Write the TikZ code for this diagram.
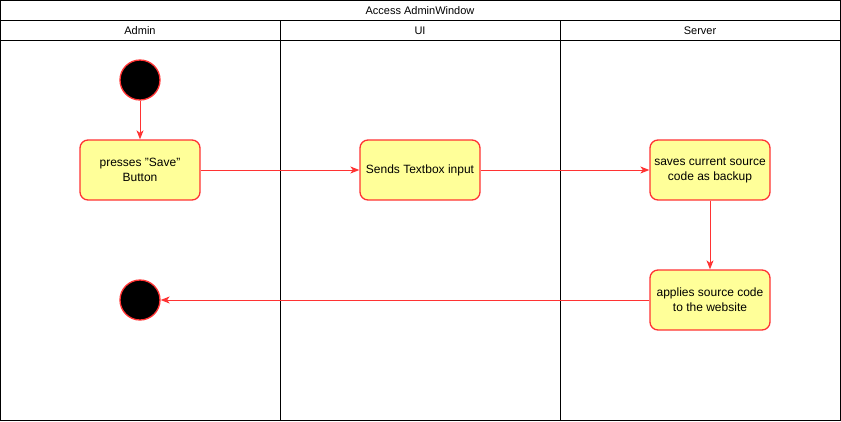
\documentclass[tikz,border=0pt]{standalone}
\usepackage{fontspec}
\setmainfont{Liberation Sans}
\usetikzlibrary{arrows.meta}
\definecolor{edge}{HTML}{FF3333}
\definecolor{fillY}{HTML}{FFFF99}
\tikzset{
  act/.style={draw=edge, fill=fillY, line width=1.3pt, rounded corners=8pt, minimum width=120pt, minimum height=60pt, align=center, inner sep=2pt, font=\fontsize{12}{15}\selectfont},
  startend/.style={circle, draw=edge, fill=black, line width=1.3pt, minimum size=40pt, inner sep=0pt},
  flow/.style={draw=edge, line width=1pt, -{Stealth[length=9pt,width=7pt,inset=2.5pt]}},
  frame/.style={draw=black, line width=0.8pt},
  hdr/.style={font=\fontsize{11}{13}\selectfont}
}
\begin{document}
\begin{tikzpicture}[x=1pt,y=-1pt]
\useasboundingbox (0,0) rectangle (841,421);
\draw[frame] (0.5,0.5) rectangle (840.5,420.5);
\draw[frame] (0.5,20.5) -- (840.5,20.5);
\draw[frame] (0.5,40.5) -- (840.5,40.5);
\draw[frame] (280.5,20.5) -- (280.5,420.5);
\draw[frame] (560.5,20.5) -- (560.5,420.5);
\node[hdr] (title) at (420,10.5) {Access AdminWindow};
\node[hdr] (hA) at (140,30.5) {Admin};
\node[hdr] (hU) at (420,30.5) {UI};
\node[hdr] (hS) at (700,30.5) {Server};
\node[startend] (start) at (140,80) {};
\node[act] (press) at (140,170) {presses "Save"\\Button};
\node[act] (send) at (420,170) {Sends Textbox input};
\node[act] (save) at (710,170) {saves current source\\code as backup};
\node[act] (apply) at (710,300) {applies source code\\to the website};
\node[startend] (end) at (140,300) {};
\draw[flow] (start) -- (press);
\draw[flow] (press) -- (send);
\draw[flow] (send) -- (save);
\draw[flow] (save) -- (apply);
\draw[flow] (apply) -- (end);
\end{tikzpicture}
\end{document}
